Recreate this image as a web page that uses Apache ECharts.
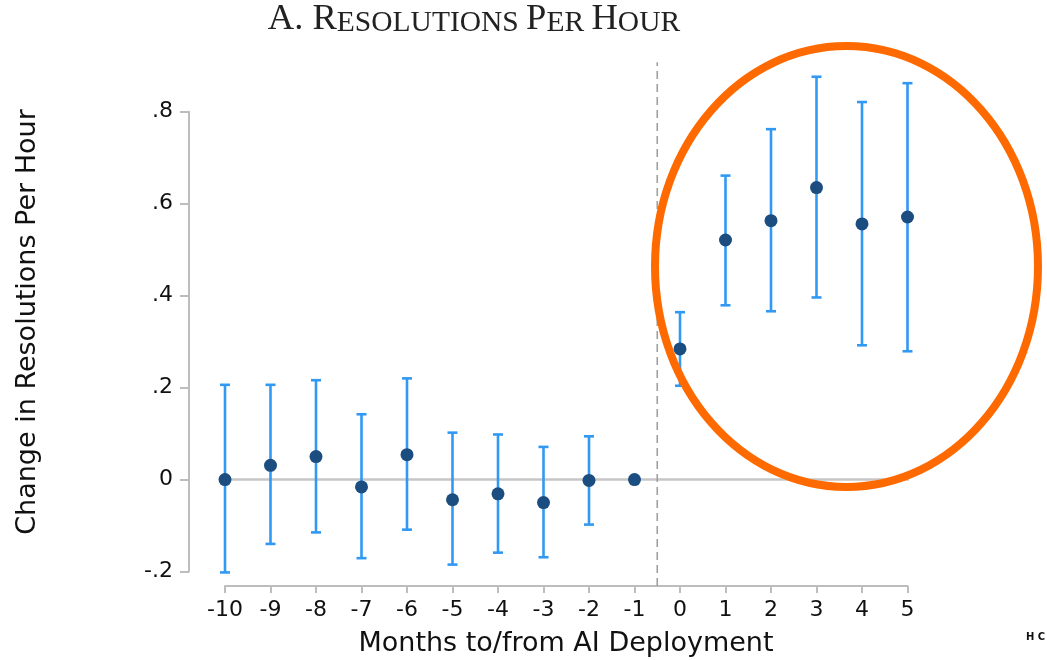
<!DOCTYPE html>
<html>
<head>
<meta charset="utf-8">
<script src="https://cdn.jsdelivr.net/npm/echarts@6/dist/echarts.min.js"></script>
<style>html,body{margin:0;padding:0;background:#fff;}#c{width:1047px;height:660px;}</style>
</head>
<body>
<div id="c"></div>
<script>
// ---- data ----
const months = [-10, -9, -8, -7, -6, -5, -4, -3, -2, -1, 0, 1, 2, 3, 4, 5];
const estimates = [0.000, 0.031, 0.050, -0.016, 0.054, -0.044, -0.031, -0.050, -0.002, 0.000, 0.284, 0.521, 0.563, 0.635, 0.556, 0.571];
const ciLow  = [-0.202, -0.140, -0.115, -0.171, -0.109, -0.185, -0.159, -0.169, -0.098, null, 0.204, 0.379, 0.366, 0.396, 0.292, 0.279];
const ciHigh = [0.206, 0.206, 0.216, 0.142, 0.220, 0.102, 0.098, 0.071, 0.094, null, 0.364, 0.661, 0.762, 0.876, 0.821, 0.862];
const yTicks = [-0.2, 0, 0.2, 0.4, 0.6, 0.8];
const yTickLabels = ['-.2', '0', '.2', '.4', '.6', '.8'];
const deploymentAt = -0.5;
const zeroLineSpan = [-10.79, 5.78];
const dashedSpan = [-0.2315, 0.9076];

const chart = echarts.init(document.getElementById('c'));
const sans = '"DejaVu Sans", sans-serif';
const serif = '"Liberation Serif", serif';

const ciData = [];
months.forEach((m, i) => { if (ciLow[i] !== null) ciData.push([m, ciLow[i], ciHigh[i]]); });

chart.setOption({
  animation: false,
  backgroundColor: '#fff',
  grid: { left: 225, right: 139.5, top: 111.7, bottom: 88.5 },
  xAxis: {
    type: 'value', min: -10, max: 5, interval: 1, offset: 14.5,
    axisLine: { show: true, onZero: false, lineStyle: { color: '#bdbdbd', width: 2 } },
    axisTick: { show: true, length: 7, lineStyle: { color: '#bdbdbd', width: 2 } },
    axisLabel: { fontFamily: sans, fontSize: 22, color: '#111', margin: 13 },
    splitLine: { show: false }
  },
  yAxis: {
    type: 'value', min: -0.2, max: 0.8, interval: 0.2, offset: 36,
    axisLine: { show: true, onZero: false, lineStyle: { color: '#bdbdbd', width: 2 } },
    axisTick: { show: true, length: 9, lineStyle: { color: '#bdbdbd', width: 2 } },
    axisLabel: {
      fontFamily: sans, fontSize: 22, color: '#111', margin: 16,
      formatter: v => { const k = yTicks.findIndex(t => Math.abs(t - v) < 1e-9); return k >= 0 ? yTickLabels[k] : ''; }
    },
    splitLine: { show: false }
  },
  series: [
    {
      type: 'line', clip: false, silent: true, symbol: 'none', z: 1,
      data: [[zeroLineSpan[0], 0], [zeroLineSpan[1], 0]],
      lineStyle: { color: '#c6c6c6', width: 2.5 }
    },
    {
      type: 'line', clip: false, silent: true, symbol: 'none', z: 5,
      data: [[deploymentAt, dashedSpan[0]], [deploymentAt, dashedSpan[1]]],
      lineStyle: { color: '#a0a0a0', width: 1.6, type: [8, 5] }
    },
    {
      type: 'custom', z: 3, clip: false,
      data: ciData,
      renderItem: (params, api) => {
        const x = api.value(0);
        const lo = api.coord([x, api.value(1)]);
        const hi = api.coord([x, api.value(2)]);
        const hw = 5;
        const st = { stroke: '#3199f3', lineWidth: 2.6 };
        return {
          type: 'group',
          children: [
            { type: 'line', shape: { x1: lo[0], y1: lo[1], x2: hi[0], y2: hi[1] }, style: st },
            { type: 'line', shape: { x1: hi[0] - hw, y1: hi[1], x2: hi[0] + hw, y2: hi[1] }, style: st },
            { type: 'line', shape: { x1: lo[0] - hw, y1: lo[1], x2: lo[0] + hw, y2: lo[1] }, style: st }
          ]
        };
      }
    },
    {
      type: 'scatter', z: 6, symbol: 'circle', symbolSize: 13,
      data: months.map((m, i) => [m, estimates[i]]),
      itemStyle: { color: '#1b4d80', opacity: 1 }
    }
  ],
  graphic: [
    {
      type: 'text', z: 10,
      x: 474, y: 38,
      style: {
        text: '{b|A. }{b|R}{s|ESOLUTIONS }{b|P}{s|ER }{b|H}{s|OUR}',
        textAlign: 'center', textVerticalAlign: 'bottom',
        rich: {
          b: { fontFamily: serif, fontSize: 36.5, fill: '#222', verticalAlign: 'bottom', lineHeight: 38 },
          s: { fontFamily: serif, fontSize: 29.5, fill: '#222', verticalAlign: 'bottom', lineHeight: 38 }
        }
      }
    },
    {
      type: 'text', z: 10, x: 28, y: 322, rotation: Math.PI / 2,
      style: { text: 'Change in Resolutions Per Hour', fontFamily: sans, fontSize: 27, fill: '#111', textAlign: 'center', textVerticalAlign: 'middle' }
    },
    {
      type: 'text', z: 10, x: 566, y: 644,
      style: { text: 'Months to/from AI Deployment', fontFamily: sans, fontSize: 27, fill: '#111', textAlign: 'center', textVerticalAlign: 'middle' }
    },
    {
      type: 'ellipse', z: 20,
      shape: { cx: 846.5, cy: 266.5, rx: 191.5, ry: 220.5 },
      style: { fill: 'none', stroke: '#ff6a00', lineWidth: 8 }
    },
    {
      type: 'text', z: 10, x: 1026, y: 637,
      style: { text: 'H C', fontFamily: sans, fontSize: 10, fontWeight: 'bold', fill: '#111', textVerticalAlign: 'middle' }
    }
  ]
});
</script>
</body>
</html>
